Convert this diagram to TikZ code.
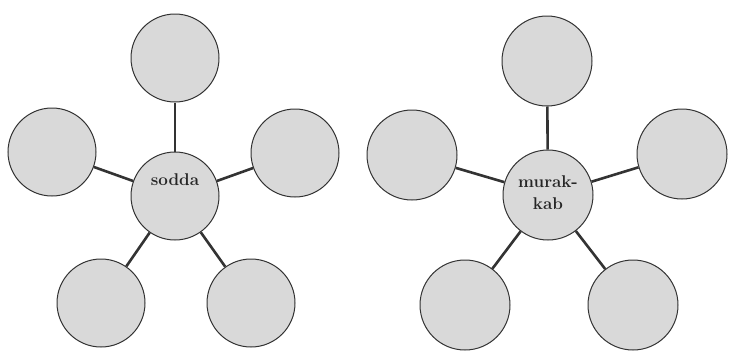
\documentclass[tikz,border=0pt]{standalone}
\begin{document}
\begin{tikzpicture}[x=1pt,y=-1pt,
	leaf/.style={circle,draw=black!80,line width=1pt,fill=black!15,minimum size=88pt,inner sep=0pt},
	link/.style={line width=2.6pt,draw=black!80},
	hubtext/.style={font=\fontsize{17}{22}\selectfont\bfseries,text=black!85,align=center,inner sep=0pt}]
	\useasboundingbox[fill=white] (0,0) rectangle (730,351);
	% sodda
	\node[leaf] (s0) at (175,196) {};
	\node[leaf] (s1) at (175,58) {};
	\node[leaf] (s2) at (52,152) {};
	\node[leaf] (s3) at (295,153) {};
	\node[leaf] (s4) at (101,303) {};
	\node[leaf] (s5) at (251,303) {};
	\node[hubtext] (s0t) at (175,180) {sodda};
	\draw[link] (s0) -- (s1);
	\draw[link] (s0) -- (s2);
	\draw[link] (s0) -- (s3);
	\draw[link] (s0) -- (s4);
	\draw[link] (s0) -- (s5);
	% murakkab
	\node[leaf,minimum size=90pt] (m0) at (548,195) {};
	\node[leaf,minimum size=90pt] (m1) at (547,61) {};
	\node[leaf,minimum size=90pt] (m2) at (412,155) {};
	\node[leaf,minimum size=90pt] (m3) at (682,154) {};
	\node[leaf,minimum size=90pt] (m4) at (465,305) {};
	\node[leaf,minimum size=90pt] (m5) at (633,305) {};
	\node[hubtext] (m0t) at (548,193) {murak-\\kab};
	\draw[link] (m0) -- (m1);
	\draw[link] (m0) -- (m2);
	\draw[link] (m0) -- (m3);
	\draw[link] (m0) -- (m4);
	\draw[link] (m0) -- (m5);
\end{tikzpicture}
\end{document}
